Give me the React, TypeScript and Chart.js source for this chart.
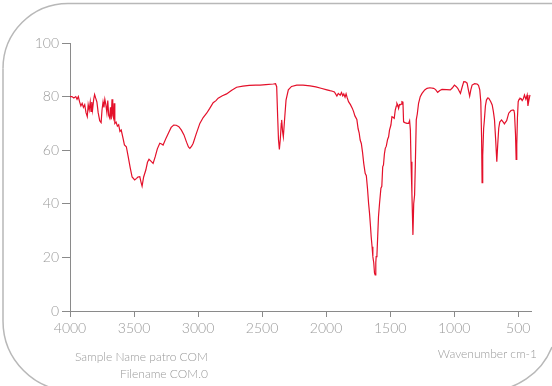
import React, { useEffect, useRef } from "react";
import { Chart, registerables } from "chart.js";

Chart.register(...registerables);

const wavenumbers: number[] = [
  4000, 3985, 3970, 3955, 3945, 3935, 3925, 3915, 3905, 3895, 3885, 3875, 3865, 3858, 3850, 3842, 3836, 3830, 3824, 3815,
  3808, 3800, 3790, 3780, 3768, 3757, 3750, 3742, 3735, 3728, 3720, 3712, 3705, 3698, 3690, 3684, 3678, 3672, 3666, 3660,
  3655, 3650, 3640, 3630, 3620, 3610, 3600, 3586, 3575, 3560, 3547, 3530, 3515, 3495, 3480, 3470, 3455, 3445, 3437, 3425,
  3408, 3395, 3383, 3370, 3351, 3335, 3318, 3299, 3285, 3273, 3250, 3230, 3210, 3190, 3170, 3150, 3130, 3110, 3090, 3075,
  3064, 3050, 3038, 3015, 2986, 2960, 2933, 2910, 2882, 2860, 2843, 2810, 2777, 2740, 2699, 2650, 2600, 2550, 2516, 2470,
  2412, 2395, 2386, 2378, 2372, 2365, 2358, 2350, 2347, 2340, 2334, 2325, 2313, 2295, 2270, 2229, 2180, 2125, 2080, 2040,
  1994, 1970, 1950, 1935, 1916, 1905, 1890, 1880, 1870, 1862, 1852, 1844, 1835, 1825, 1810, 1795, 1786, 1775, 1760, 1750,
  1742, 1734, 1725, 1716, 1706, 1695, 1686, 1677, 1668, 1661, 1654, 1648, 1641, 1635, 1628, 1622, 1617, 1612, 1609, 1603,
  1597, 1591, 1583, 1572, 1565, 1558, 1552, 1545, 1538, 1530, 1520, 1512, 1505, 1494, 1486, 1478, 1468, 1460, 1452, 1447,
  1440, 1434, 1427, 1421, 1414, 1408, 1400, 1395, 1385, 1369, 1356, 1348, 1342, 1337, 1330, 1322, 1316, 1309, 1303, 1296,
  1288, 1278, 1265, 1251, 1230, 1212, 1190, 1160, 1145, 1129, 1112, 1095, 1060, 1030, 1015, 998, 985, 972, 960, 951,
  938, 925, 912, 899, 889, 879, 870, 860, 840, 821, 810, 800, 792, 786, 782, 777, 770, 764, 756, 748, 738,
  730, 715, 703, 694, 685, 676, 667, 660, 652, 644, 630, 617, 608, 600, 590, 574, 556, 539, 533, 529, 521,
  516, 511, 506, 500, 493, 487, 478, 469, 460, 451, 440, 430, 424, 417, 408, 400,
];

const transmittance: number[] = [
  80, 80, 79.5, 80, 79, 80, 78, 76.5, 77.5, 76, 77, 74, 72.5, 77, 75, 78, 74.5, 78, 75, 79,
  80.8, 79.5, 78, 74, 71, 70.3, 75, 78, 76, 79, 77, 74, 78.5, 73, 72, 76, 71.5, 79, 73, 72,
  77.5, 70, 70.5, 69, 69.5, 67, 67.5, 64.5, 62, 61.3, 58, 53.5, 50, 48.9, 49.5, 50, 50.1, 48, 46.6, 50,
  52.6, 55.5, 56.6, 56, 55.1, 57.5, 60.5, 62.6, 62.3, 61.9, 64.5, 66.5, 68.5, 69.4, 69.3, 68.8, 67.5, 65.7, 63, 61.2,
  60.7, 61.5, 62.6, 66, 70, 72.2, 73.8, 75.5, 77.7, 78.5, 79.4, 80.3, 81, 82.3, 83.5, 83.9, 84.2, 84.3, 84.3, 84.5,
  84.7, 84.8, 83.7, 72, 64, 60.3, 64, 70, 71.3, 67, 65, 71, 78.7, 82.5, 83.8, 84.3, 84.3, 84, 83.6, 83.1,
  82.5, 82.2, 82, 81.7, 80.2, 81.2, 80.5, 81.5, 80.3, 81, 79.8, 81, 79.5, 78.1, 77, 75.6, 74.5, 72.8, 71.5, 68,
  66.5, 63.8, 62.5, 59.4, 55, 51.4, 50.5, 45.8, 40, 36.5, 32, 27.7, 24, 20.3, 18, 14.1, 13.5, 18, 20.3, 21,
  28, 35.2, 40, 45.8, 46.5, 53.8, 54.5, 58.5, 60.7, 61.5, 64, 65, 67.5, 69.4, 72.5, 72.3, 71.9, 75, 76.5, 77.5,
  76.8, 75.6, 77, 76.9, 77.2, 78.1, 77.9, 70.6, 70.3, 70, 70, 71, 67.5, 55.7, 43.9, 28.4, 40, 43.3, 55, 71.3,
  73.5, 77.5, 80, 81.2, 82.5, 83.1, 83.3, 83.1, 82.6, 81.6, 82.3, 82.7, 82.6, 82.5, 83.2, 84.3, 83.8, 83.1, 82, 81.2,
  83.5, 85.6, 85.5, 85, 82.5, 80.2, 82.5, 84.3, 84.8, 84.7, 84.2, 82.5, 78, 65, 47.9, 58, 68, 71.3, 76.5, 78.7, 79.5,
  79.4, 78.2, 76.9, 74.5, 71.3, 64, 55.7, 62, 68.2, 70.5, 71.3, 70.5, 69.8, 70.4, 71, 73.8, 74.8, 75, 74.7, 73.8, 66,
  56.6, 62, 72, 78.1, 79, 79.4, 79.3, 78.5, 79.2, 80.6, 79, 80.6, 76.5, 78.5, 80.6,
];

const yTickValues: number[] = [0, 20, 40, 60, 80, 100];
const xTickValues: number[] = [4000, 3500, 3000, 2500, 2000, 1500, 1000, 500];
const sampleLabel = "Sample Name patro COM";
const fileLabel = "Filename COM.0";
const axisTitle = "Wavenumber cm-1";

export default function App() {
  const canvasRef = useRef<HTMLCanvasElement | null>(null);

  useEffect(() => {
    const canvas = canvasRef.current;
    if (!canvas) return;
    const points = wavenumbers.map((w, i) => ({ x: w, y: transmittance[i] }));
    const tickFont = { family: "Lato", size: 14, weight: "300" as any };
    const chart = new Chart(canvas, {
      type: "line",
      data: {
        datasets: [
          {
            data: points,
            borderColor: "#e4102a",
            borderWidth: 1.2,
            pointRadius: 0,
            tension: 0,
            fill: false,
          },
        ],
      },
      options: {
        animation: false,
        responsive: false,
        parsing: false as any,
        layout: { padding: { left: 0, top: 43, right: 21, bottom: 0 } },
        plugins: { legend: { display: false }, tooltip: { enabled: false } },
        scales: {
          x: {
            type: "linear",
            reverse: true,
            min: 400,
            max: 4000,
            afterBuildTicks: (scale: any) => {
              scale.ticks = xTickValues.map((v) => ({ value: v }));
            },
            afterFit: (scale: any) => {
              scale.height = 75;
            },
            grid: { drawOnChartArea: false, drawTicks: true, tickLength: 6, color: "#8a8a8a" },
            border: { display: true, color: "#8a8a8a", width: 1 },
            ticks: {
              color: "#9a9a9a",
              font: tickFont,
              padding: 3,
              maxRotation: 0,
              autoSkip: false,
              callback: (v: any) => String(v),
            },
          },
          y: {
            type: "linear",
            min: 0,
            max: 100,
            afterBuildTicks: (scale: any) => {
              scale.ticks = yTickValues.map((v) => ({ value: v }));
            },
            afterFit: (scale: any) => {
              scale.width = 70;
            },
            grid: { drawOnChartArea: false, drawTicks: true, tickLength: 8, color: "#8a8a8a" },
            border: { display: true, color: "#8a8a8a", width: 1 },
            ticks: { color: "#9a9a9a", font: tickFont, padding: 3, callback: (v: any) => String(v) },
          },
        },
      },
    });
    return () => chart.destroy();
  }, []);

  const textStyle: React.CSSProperties = {
    position: "absolute",
    fontFamily: "Lato, sans-serif",
    fontWeight: 300,
    fontSize: 12,
    color: "#9a9a9a",
    whiteSpace: "nowrap",
    lineHeight: "14px",
  };

  return (
    <div
      style={{
        position: "fixed",
        left: 0,
        top: 0,
        width: 552,
        height: 386,
        overflow: "hidden",
        background: "#fff",
      }}
    >
      <svg width={552} height={386} style={{ position: "absolute", left: 0, top: 0 }}>
        <path
          d="M 3 68.5 A 65 65 0 0 1 68 3.5 H 552"
          fill="none"
          stroke="#b8b8b8"
          strokeWidth={1.5}
        />
        <path d="M 3 68.5 V 321 A 70 70 0 0 0 73 391" fill="none" stroke="#b8b8b8" strokeWidth={1.5} />
        <path d="M 487 391 A 70 70 0 0 0 552 347" fill="none" stroke="#b8b8b8" strokeWidth={1.5} />
      </svg>
      <canvas ref={canvasRef} width={552} height={386} style={{ position: "absolute", left: 0, top: 0 }} />
      <div style={{ ...textStyle, right: 552 - 208, top: 350, textAlign: "right" }}>{sampleLabel}</div>
      <div style={{ ...textStyle, right: 552 - 208, top: 367, textAlign: "right" }}>{fileLabel}</div>
      <div style={{ ...textStyle, right: 552 - 537, top: 347, textAlign: "right" }}>{axisTitle}</div>
    </div>
  );
}
